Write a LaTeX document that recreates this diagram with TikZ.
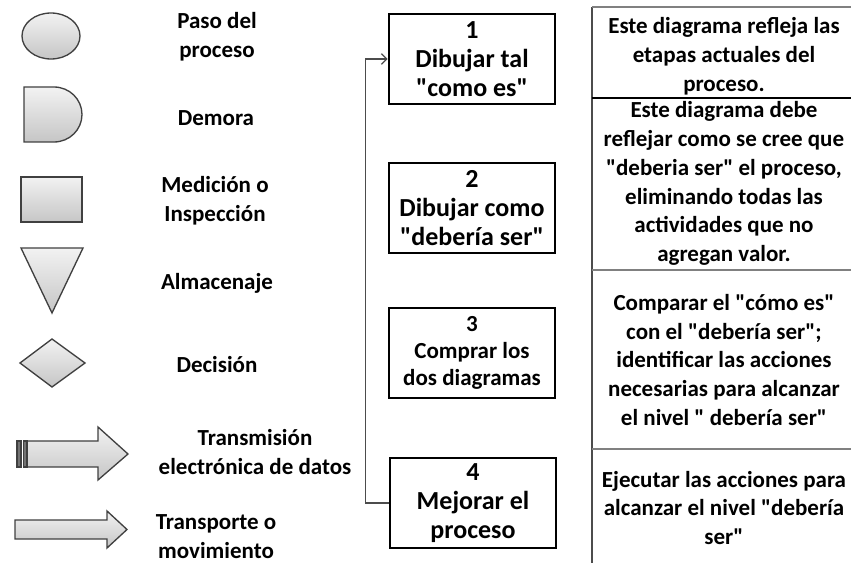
\documentclass[tikz,border=0pt]{standalone}
\usepackage{fontspec}
\setmainfont{Carlito}[Ligatures=TeXOff]
\usetikzlibrary{arrows.meta}

\begin{document}
\begin{tikzpicture}
        [x=0.75pt, y=-0.75pt, >={Straight Barb[length=4pt, width=8pt]},
        figura/.style={draw=black!75, line width=1pt, top color=gray!10, bottom color=gray!45},
        etiqueta/.style={align=center, font=\bfseries\fontsize{17.25}{21.75}\selectfont},
        paso/.style={draw=black, line width=1.5pt, minimum width=125pt, minimum height=67.5pt, inner sep=0pt, align=center, font=\bfseries\fontsize{19.5}{21.5}\selectfont},
        nota/.style={align=center, font=\bfseries\fontsize{17.25}{21.6}\selectfont}]

        \useasboundingbox (0,0) rectangle (851,563);

        % simbolos
        \draw[figura] (51,36) ellipse [x radius=29, y radius=23];
        \draw[figura] (24,87) -- (54,87) arc[start angle=-90, end angle=90, x radius=28, y radius=27.5] -- (24,142) -- cycle;
        \draw[figura] (21,177) rectangle (82,222);
        \draw[figura] (21,248) -- (83,248) -- (52,313) -- cycle;
        \draw[figura] (20,363) -- (52,339) -- (85,363) -- (52,387) -- cycle;
        \draw[figura] (27,441) -- (98,441) -- (98,427) -- (128,454) -- (98,480) -- (98,467) -- (27,467) -- cycle;
        \filldraw[draw=black!75, fill=black!55, line width=0.8pt] (17,441) rectangle (21,467);
        \filldraw[draw=black!75, fill=black!55, line width=0.8pt] (23.5,441) rectangle (27,467);
        \draw[figura] (15,520) -- (107,520) -- (107,511) -- (127,529.5) -- (107,548) -- (107,539) -- (15,539) -- cycle;

        \foreach \xx/\yy/\texto [count=\i] in {217/37/{Paso del\\proceso}, 216/118/Demora, 215/201/{Medición o\\Inspección}, 217/283/Almacenaje, 217/365/Decisión, 255/452/{Transmisión\\electrónica de datos}, 216/537/{Transporte o\\movimiento}}
        \node[etiqueta] (simbolo-\i) at (\xx,\yy) {\texto};

        % pasos
        \node[paso] (paso-1) at (472,59) {1\\Dibujar tal\\"como es"};
        \node[paso] (paso-2) at (472,208) {2\\Dibujar como\\"debería ser"};
        \node[paso, font=\bfseries\fontsize{17.25}{20.5}\selectfont] (paso-3) at (472,353) {3\\Comprar los\\dos diagramas};
        \node[paso, font=\bfseries\fontsize{19.5}{22}\selectfont] (paso-4) at (473,503) {4\\Mejorar el\\proceso};

        \draw[->, draw=gray!60!black, line width=1pt] (paso-4.west) -- ++(-23,0) |- (paso-1.west);

        % tabla
        \draw[black!70, line width=1.2pt] (592,7) -- (592,563);
        \draw[gray, line width=1.5pt] (592,7) -- (851,7);
        \draw[black, line width=1pt] (592,98) -- (851,98);
        \draw[gray, line width=1.5pt] (592,270) -- (851,270);
        \draw[gray, line width=1.5pt] (592,449) -- (851,449);

        \node[nota] (nota-1) at (724,56.5) {Este diagrama refleja las\\etapas actuales del\\proceso.};
        \node[nota] (nota-2) at (724,183.5) {Este diagrama debe\\reflejar como se cree que\\"deberia ser" el proceso,\\eliminando todas las\\actividades que no\\agregan valor.};
        \node[nota] (nota-3) at (724,360) {Comparar el "cómo es"\\con el "debería ser";\\identificar las acciones\\necesarias para alcanzar\\el nivel " debería ser"};
        \node[nota] (nota-4) at (724,508) {Ejecutar las acciones para\\alcanzar el nivel "debería\\ser"};

    \end{tikzpicture}
\end{document}
